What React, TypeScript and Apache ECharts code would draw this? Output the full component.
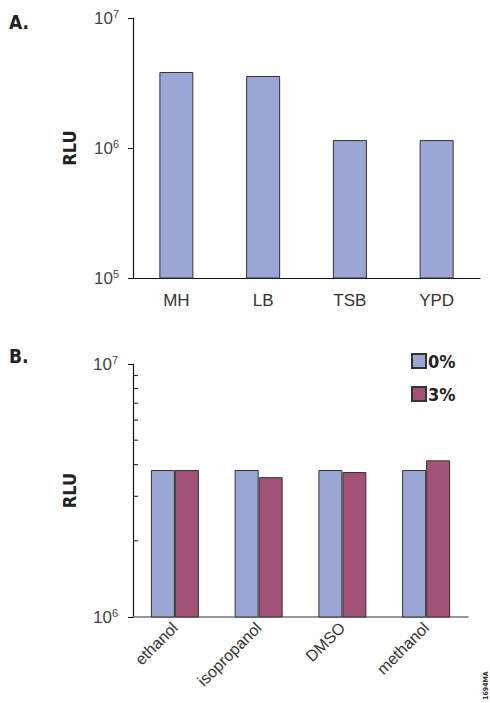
import React, { useEffect, useRef } from "react";
import * as echarts from "echarts";

const mediaCategories = ["MH", "LB", "TSB", "YPD"];
const mediaRLU = [3840000, 3580000, 1150000, 1150000];

const solventCategories = ["ethanol", "isopropanol", "DMSO", "methanol"];
const solvent0pct = [3810000, 3810000, 3810000, 3810000];
const solvent3pct = [3810000, 3570000, 3740000, 4160000];
const seriesNames = ["0%", "3%"];

const minorTickValues = [2e6, 3e6, 4e6, 5e6, 6e6, 7e6, 8e6, 9e6];

const NARROW = "'Liberation Sans Narrow', 'DejaVu Sans Condensed', 'Roboto Condensed', sans-serif";
const LIGHT = "'Liberation Sans', Roboto, 'Noto Sans', sans-serif";

const BLUE = "#9BA6D4";
const MAROON = "#A25276";

function powLabel(v: number) {
  const e = Math.round(Math.log10(v));
  return "{b|10}{s|" + e + "}";
}

const rich = {
  b: { fontSize: 17, color: "#444", fontFamily: LIGHT },
  s: { fontSize: 11, color: "#444", fontFamily: LIGHT, padding: [0, 0, 8, 0] },
};

export default function App() {
  const ref = useRef<HTMLDivElement>(null);
  useEffect(() => {
    if (!ref.current) return;
    const chart = echarts.init(ref.current, undefined, { renderer: "svg" });
    chart.setOption({
      animation: false,
      backgroundColor: "#fff",
      legend: {
        data: seriesNames,
        orient: "vertical",
        left: 411,
        top: 352,
        itemWidth: 14,
        itemHeight: 14,
        itemGap: 15,
        padding: 0,
        icon: "rect",
        textStyle: { fontFamily: NARROW, fontWeight: "bold", fontSize: 18, color: "#222", padding: [0, 0, 0, -3] },
      },
      graphic: [
        { type: "text", left: 9, top: 12, style: { text: "A.", fontFamily: NARROW, fontWeight: "bold", fontSize: 19, fill: "#222" } },
        { type: "text", left: 9, top: 346, style: { text: "B.", fontFamily: NARROW, fontWeight: "bold", fontSize: 19, fill: "#222" } },
        { type: "text", x: 482, y: 700, rotation: Math.PI / 2, style: { text: "1694MA", fontFamily: NARROW, fontWeight: "bold", fontSize: 7, fill: "#333" } },
      ],
      grid: [
        { left: 133, top: 18, width: 347, height: 260 },
        { left: 133, top: 364, width: 335, height: 253 },
      ],
      xAxis: [
        {
          type: "category",
          gridIndex: 0,
          data: mediaCategories,
          axisLine: { lineStyle: { color: "#111", width: 1.2 } },
          axisTick: { show: false },
          axisLabel: { margin: 14, fontSize: 17, color: "#333", fontFamily: LIGHT },
        },
        {
          type: "category",
          gridIndex: 1,
          data: solventCategories,
          axisLine: { lineStyle: { color: "#777", width: 1.5 } },
          axisTick: { show: false },
          axisLabel: { margin: 8, rotate: 45, fontSize: 16, color: "#333", fontFamily: LIGHT },
        },
      ],
      yAxis: [
        {
          type: "log",
          logBase: 10,
          gridIndex: 0,
          min: 1e5,
          max: 1e7,
          name: "RLU",
          nameLocation: "middle",
          nameGap: 55,
          nameTextStyle: { fontFamily: NARROW, fontWeight: "bold", fontSize: 18, color: "#222" },
          axisLine: { show: true, lineStyle: { color: "#111", width: 1.2 } },
          axisTick: { show: true, length: 5, lineStyle: { color: "#111" } },
          splitLine: { show: false },
          axisLabel: { margin: 14, fontSize: 17, color: "#444", fontFamily: LIGHT, formatter: powLabel, rich },
        },
        {
          type: "log",
          logBase: 10,
          gridIndex: 1,
          min: 1e6,
          max: 1e7,
          name: "RLU",
          nameLocation: "middle",
          nameGap: 55,
          nameTextStyle: { fontFamily: NARROW, fontWeight: "bold", fontSize: 18, color: "#222" },
          axisLine: { show: true, lineStyle: { color: "#111", width: 1.2 } },
          axisTick: { show: true, length: 5, lineStyle: { color: "#111" } },
          splitLine: { show: false },
          axisLabel: { margin: 15, fontSize: 17, color: "#444", fontFamily: LIGHT, formatter: powLabel, rich },
        },
      ],
      series: [
        {
          type: "bar",
          xAxisIndex: 0,
          yAxisIndex: 0,
          data: mediaRLU,
          barWidth: 34,
          itemStyle: { color: BLUE, borderColor: "#333", borderWidth: 1 },
        },
        {
          name: seriesNames[0],
          type: "bar",
          xAxisIndex: 1,
          yAxisIndex: 1,
          data: solvent0pct,
          barWidth: 24,
          barGap: "0%",
          itemStyle: { color: BLUE, borderColor: "#333", borderWidth: 1 },
        },
        {
          name: seriesNames[1],
          type: "bar",
          xAxisIndex: 1,
          yAxisIndex: 1,
          data: solvent3pct,
          barWidth: 24,
          barGap: "0%",
          itemStyle: { color: MAROON, borderColor: "#333", borderWidth: 1 },
        },
        {
          type: "custom",
          xAxisIndex: 1,
          yAxisIndex: 1,
          silent: true,
          data: minorTickValues.map((v) => [0, v]),
          renderItem: (params: any, api: any) => {
            const y = api.coord([0, api.value(1)])[1];
            const x = params.coordSys.x;
            return {
              type: "line",
              shape: { x1: x, y1: y, x2: x + 5, y2: y },
              style: { stroke: "#111", lineWidth: 1 },
            };
          },
        },
      ],
    });
    return () => chart.dispose();
  }, []);
  return (
    <div
      ref={ref}
      style={{ position: "fixed", left: 0, top: 0, width: 490, height: 703 }}
    />
  );
}
